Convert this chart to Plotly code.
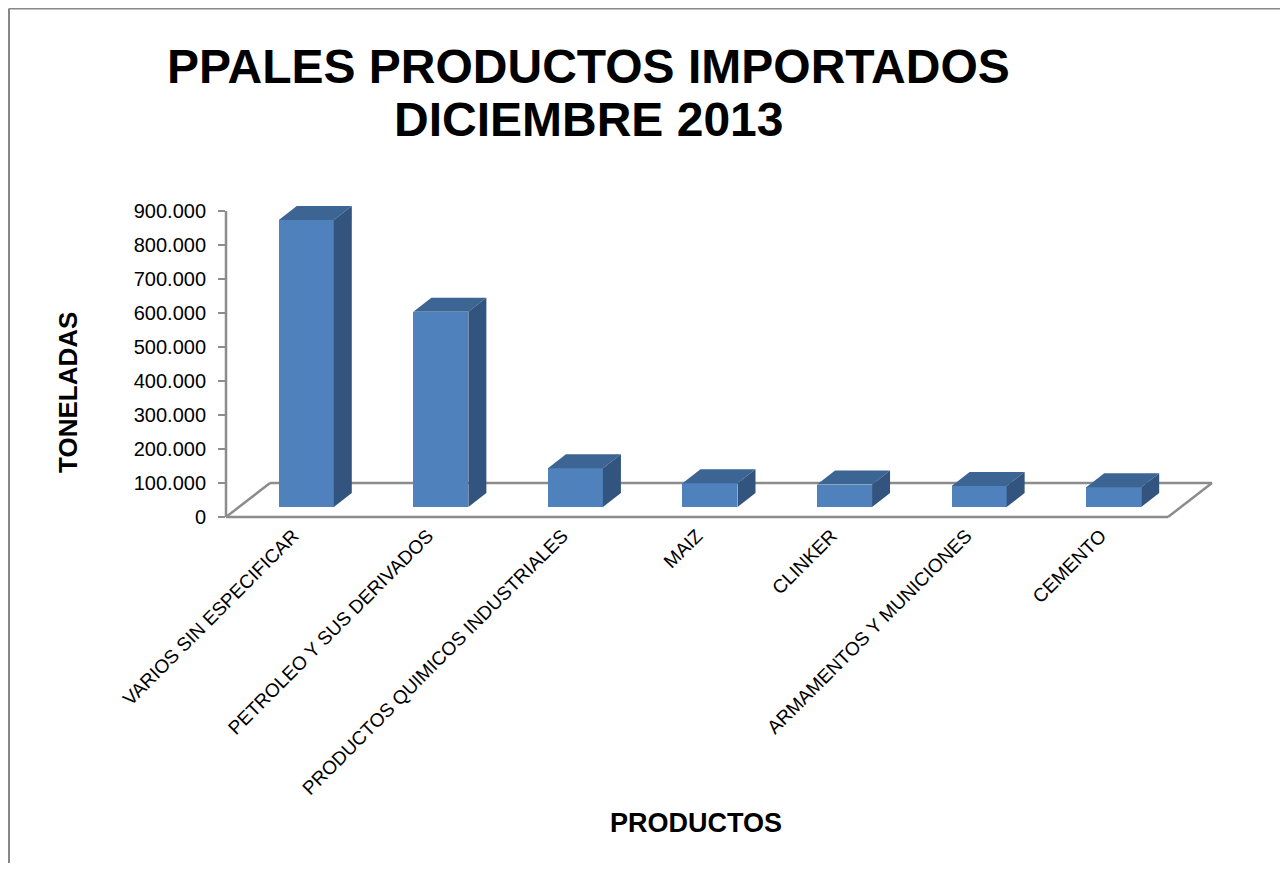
import plotly.graph_objects as go

# ---------------- data ----------------
categories = [
    "VARIOS SIN ESPECIFICAR",
    "PETROLEO Y SUS DERIVADOS",
    "PRODUCTOS QUIMICOS INDUSTRIALES",
    "MAIZ",
    "CLINKER",
    "ARMAMENTOS Y MUNICIONES",
    "CEMENTO",
]
toneladas = [844000, 574000, 114000, 70000, 66000, 62000, 58000]
y_ticks = [0, 100000, 200000, 300000, 400000, 500000, 600000, 700000, 800000, 900000]
y_tick_labels = [f"{v:,}".replace(",", ".") for v in y_ticks]

title_line1 = "PPALES PRODUCTOS IMPORTADOS"
title_line2 = "DICIEMBRE 2013"
y_title = "TONELADAS"
x_title = "PRODUCTOS"

# ---------------- geometry / style ----------------
FONT = "Liberation Sans, Arial, sans-serif"
FRONT = "#4F81BD"
TOP = "#3D6593"
SIDE = "#32547F"
GRID = "#8C8C8C"

FIG_W, FIG_H = 1272, 855
ML, MR, MT, MB = 218, 50, 187, 343
PLOT_W = FIG_W - ML - MR
PLOT_H = FIG_H - MT - MB
PX_PER_X = 134.57            # pixels per category
UPY = 100000 / 34.0          # value units per pixel

FLOOR_DX = 44 / PX_PER_X
FLOOR_DY = 34 * UPY
BAR_W = 55 / PX_PER_X
BAR_DX0 = 13 / PX_PER_X
BAR_DY0 = 10 * UPY
BAR_DDX = 18 / PX_PER_X
BAR_DDY = 14 * UPY

n = len(categories)
x_idx = list(range(n))

fig = go.Figure()

# front faces (real bars)
fig.add_trace(go.Bar(
    x=[i + BAR_DX0 for i in x_idx],
    y=toneladas,
    base=[BAR_DY0] * n,
    width=BAR_W,
    marker=dict(color=FRONT, line=dict(width=0)),
    showlegend=False,
    hoverinfo="skip",
))

# top and side faces derived from the values
for i, v in zip(x_idx, toneladas):
    xl = i + BAR_DX0 - BAR_W / 2
    xr = i + BAR_DX0 + BAR_W / 2
    yb = BAR_DY0
    yt = BAR_DY0 + v
    fig.add_trace(go.Scatter(
        x=[xl, xr, xr + BAR_DDX, xl + BAR_DDX, xl],
        y=[yt, yt, yt + BAR_DDY, yt + BAR_DDY, yt],
        mode="lines", fill="toself", fillcolor=TOP,
        line=dict(width=0, color=TOP), showlegend=False, hoverinfo="skip",
    ))
    fig.add_trace(go.Scatter(
        x=[xr, xr + BAR_DDX, xr + BAR_DDX, xr, xr],
        y=[yb, yb + BAR_DDY, yt + BAR_DDY, yt, yb],
        mode="lines", fill="toself", fillcolor=SIDE,
        line=dict(width=0, color=SIDE), showlegend=False, hoverinfo="skip",
    ))

# floor outline (below traces)
x0, x1 = -0.5, n - 0.5
floor = [
    (x0, 0, x1, 0),
    (x1, 0, x1 + FLOOR_DX, FLOOR_DY),
    (x0 + FLOOR_DX, FLOOR_DY, x1 + FLOOR_DX, FLOOR_DY),
    (x0, 0, x0 + FLOOR_DX, FLOOR_DY),
]
shapes = []
for a, b, c, d in floor:
    shapes.append(dict(type="line", xref="x", yref="y", x0=a, y0=b, x1=c, y1=d,
                       line=dict(color=GRID, width=2.5), layer="below"))
# value axis line
shapes.append(dict(type="line", xref="paper", yref="y", x0=0, x1=0,
                   y0=y_ticks[0], y1=y_ticks[-1], line=dict(color=GRID, width=2.5),
                   layer="below"))


def xp(px):
    return (px - (ML + 8)) / PLOT_W


def yp(py):
    return ((MT + 8 + PLOT_H) - py) / PLOT_H


# chart border (top and left visible)
shapes.append(dict(type="line", xref="paper", yref="paper", x0=xp(9), x1=xp(1400),
                   y0=yp(8.6), y1=yp(8.6), line=dict(color="#878787", width=2)))
shapes.append(dict(type="line", xref="paper", yref="paper", x0=xp(9), x1=xp(9),
                   y0=yp(8.6), y1=yp(1000), line=dict(color="#878787", width=2)))

annotations = [
    dict(text=f"<b>{title_line1}</b>", x=xp(588), y=yp(66), xref="paper", yref="paper",
         showarrow=False, xanchor="center", yanchor="middle",
         font=dict(family=FONT, size=48, color="black")),
    dict(text=f"<b>{title_line2}</b>", x=xp(588), y=yp(119), xref="paper", yref="paper",
         showarrow=False, xanchor="center", yanchor="middle",
         font=dict(family=FONT, size=48, color="black")),
    dict(text=f"<b>{y_title}</b>", x=xp(68), y=yp(393), xref="paper", yref="paper",
         showarrow=False, xanchor="center", yanchor="middle", textangle=-90,
         font=dict(family=FONT, size=26, color="black")),
    dict(text=f"<b>{x_title}</b>", x=xp(696), y=yp(823), xref="paper", yref="paper",
         showarrow=False, xanchor="center", yanchor="middle",
         font=dict(family=FONT, size=27, color="black")),
]

fig.update_layout(
    width=FIG_W, height=FIG_H,
    margin=dict(l=ML, r=MR, t=MT, b=MB, pad=0),
    paper_bgcolor="white", plot_bgcolor="rgba(0,0,0,0)",
    showlegend=False,
    shapes=shapes,
    annotations=annotations,
    xaxis=dict(
        range=[-0.5, -0.5 + PLOT_W / PX_PER_X],
        tickmode="array", tickvals=x_idx, ticktext=categories,
        tickangle=-45, tickfont=dict(family=FONT, size=19, color="black"),
        showgrid=False, zeroline=False, showline=False, ticks="",
        fixedrange=True,
    ),
    yaxis=dict(
        range=[-3 * UPY, (517 - (MT + 8)) * UPY],
        tickmode="array", tickvals=y_ticks, ticktext=y_tick_labels,
        tickfont=dict(family=FONT, size=20, color="black"),
        ticks="outside", ticklen=7, tickwidth=2, tickcolor=GRID,
        ticklabelstandoff=8,
        showgrid=False, zeroline=False, showline=False,
        fixedrange=True,
    ),
    bargap=0,
)

fig.write_html("out.html")
